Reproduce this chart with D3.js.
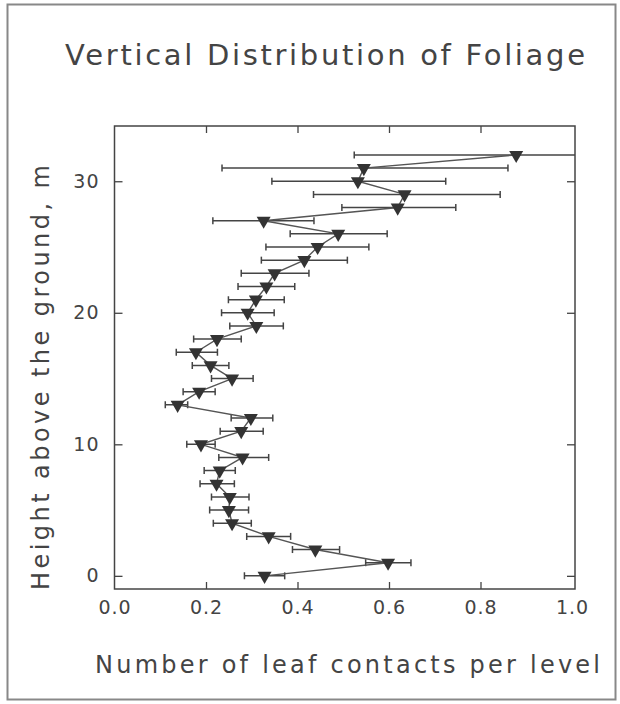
<!DOCTYPE html>
<html>
<head>
<meta charset="utf-8">
<script src="https://cdn.jsdelivr.net/npm/d3@7"></script>
<style>
  body { margin: 0; background: #fff; }
  text { font-family: "DejaVu Sans", sans-serif; fill: #444; }
</style>
</head>
<body>
<div id="chart"></div>
<script>
// heights (m) and leaf contacts, with the ends of the error bars
const heights = [0, 1, 2, 3, 4, 5, 6, 7, 8, 9, 10, 11, 12, 13, 14, 15, 16,
  17, 18, 19, 20, 21, 22, 23, 24, 25, 26, 27, 28, 29, 30, 31, 32];
const contacts = [0.328, 0.598, 0.439, 0.337, 0.257, 0.250, 0.252, 0.223, 0.230, 0.280,
  0.189, 0.277, 0.298, 0.138, 0.185, 0.257, 0.210, 0.178, 0.224, 0.310,
  0.291, 0.309, 0.332, 0.350, 0.415, 0.444, 0.489, 0.326, 0.619, 0.634,
  0.532, 0.545, 0.878];
const lowerEnd = [0.284, 0.549, 0.389, 0.289, 0.216, 0.208, 0.212, 0.187, 0.196, 0.228,
  0.158, 0.231, 0.255, 0.111, 0.150, 0.212, 0.170, 0.135, 0.173, 0.252,
  0.234, 0.249, 0.270, 0.277, 0.321, 0.331, 0.384, 0.215, 0.497, 0.435,
  0.344, 0.235, 0.524];
const upperEnd = [0.372, 0.648, 0.492, 0.385, 0.299, 0.293, 0.294, 0.262, 0.264, 0.337,
  0.220, 0.325, 0.346, 0.160, 0.220, 0.303, 0.250, 0.225, 0.277, 0.369,
  0.349, 0.371, 0.394, 0.425, 0.509, 0.556, 0.596, 0.436, 0.746, 0.843,
  0.724, 0.860, 1.08];
const xTicks = [0, 0.2, 0.4, 0.6, 0.8, 1.0];
const yTicks = [0, 10, 20, 30];

const W = 620, H = 704;
const pLeft = 114.5, pRight = 575, pTop = 126, pBottom = 589;

const data = heights.map((h, i) => ({ h: h, v: contacts[i], lo: lowerEnd[i], hi: upperEnd[i] }));

const svg = d3.select("#chart").append("svg")
  .attr("width", W).attr("height", H);

// outer border
svg.append("rect")
  .attr("x", 7.5).attr("y", 4.5).attr("width", 608).attr("height", 695)
  .attr("fill", "none").attr("stroke", "#888").attr("stroke-width", 2);

const x = d3.scaleLinear().domain([0, 1]).range([pLeft, 572]);
const y = d3.scaleLinear().domain([-1, 34.2]).range([pBottom, pTop]);

// axes (ticks point inward)
svg.append("g")
  .attr("transform", "translate(0," + pBottom + ")")
  .call(d3.axisBottom(x).tickValues(xTicks).tickFormat(d3.format(".1f")).tickSize(-7).tickPadding(12))
  .call(g => g.select(".domain").remove())
  .call(g => g.selectAll("text").attr("font-size", 19).attr("fill", "#444").attr("letter-spacing", 1))
  .call(g => g.selectAll("line").attr("stroke", "#444").attr("stroke-width", 1.3)
    .filter(d => d === 0 || d === 1).remove());

svg.append("g")
  .attr("transform", "translate(" + pLeft + ",0)")
  .call(d3.axisLeft(y).tickValues(yTicks).tickSize(-8).tickPadding(15))
  .call(g => g.select(".domain").remove())
  .call(g => g.selectAll("text").attr("font-size", 19).attr("fill", "#444").attr("letter-spacing", 1))
  .call(g => g.selectAll("line").attr("stroke", "#444").attr("stroke-width", 1.3));

svg.append("g")
  .attr("transform", "translate(0," + pTop + ")")
  .call(d3.axisTop(x).tickValues(xTicks.slice(1, -1)).tickSize(-7).tickFormat(""))
  .call(g => g.select(".domain").remove())
  .call(g => g.selectAll("line").attr("stroke", "#444").attr("stroke-width", 1.3));

svg.append("g")
  .attr("transform", "translate(" + pRight + ",0)")
  .call(d3.axisRight(y).tickValues(yTicks).tickSize(-8).tickFormat(""))
  .call(g => g.select(".domain").remove())
  .call(g => g.selectAll("line").attr("stroke", "#444").attr("stroke-width", 1.3));

// plot frame
svg.append("rect")
  .attr("x", pLeft).attr("y", pTop).attr("width", pRight - pLeft).attr("height", pBottom - pTop)
  .attr("fill", "none").attr("stroke", "#444").attr("stroke-width", 1.5);

svg.append("clipPath").attr("id", "clip")
  .append("rect").attr("x", pLeft).attr("y", pTop).attr("width", pRight - pLeft).attr("height", pBottom - pTop);

const plot = svg.append("g").attr("clip-path", "url(#clip)");

// error bars
const bars = plot.append("g").attr("stroke", "#444").attr("stroke-width", 1.5);
bars.selectAll(".bar").data(data).enter().append("line")
  .attr("x1", d => x(d.lo)).attr("x2", d => x(d.hi))
  .attr("y1", d => y(d.h)).attr("y2", d => y(d.h));
bars.selectAll(".capL").data(data).enter().append("line")
  .attr("x1", d => x(d.lo)).attr("x2", d => x(d.lo))
  .attr("y1", d => y(d.h) - 3.5).attr("y2", d => y(d.h) + 3.5);
bars.selectAll(".capR").data(data.filter(d => d.hi <= 1)).enter().append("line")
  .attr("x1", d => x(d.hi)).attr("x2", d => x(d.hi))
  .attr("y1", d => y(d.h) - 3.5).attr("y2", d => y(d.h) + 3.5);

// connecting line
plot.append("path")
  .datum(data)
  .attr("fill", "none").attr("stroke", "#555").attr("stroke-width", 1.4)
  .attr("d", d3.line().x(d => x(d.v)).y(d => y(d.h)));

// markers
plot.selectAll(".mark").data(data).enter().append("path")
  .attr("d", d3.symbol(d3.symbolTriangle, 85))
  .attr("transform", d => "translate(" + x(d.v) + "," + y(d.h) + ") rotate(180)")
  .attr("fill", "#333");

// titles
svg.append("text")
  .attr("x", 65).attr("y", 65)
  .attr("font-size", 29).attr("textLength", 520).attr("lengthAdjust", "spacing")
  .text("Vertical Distribution of Foliage");

svg.append("text")
  .attr("x", 95).attr("y", 673)
  .attr("font-size", 24).attr("textLength", 505).attr("lengthAdjust", "spacing")
  .text("Number of leaf contacts per level");

svg.append("text")
  .attr("transform", "translate(49,590) rotate(-90)")
  .attr("font-size", 24).attr("textLength", 425).attr("lengthAdjust", "spacing")
  .text("Height above the ground, m");
</script>
</body>
</html>
